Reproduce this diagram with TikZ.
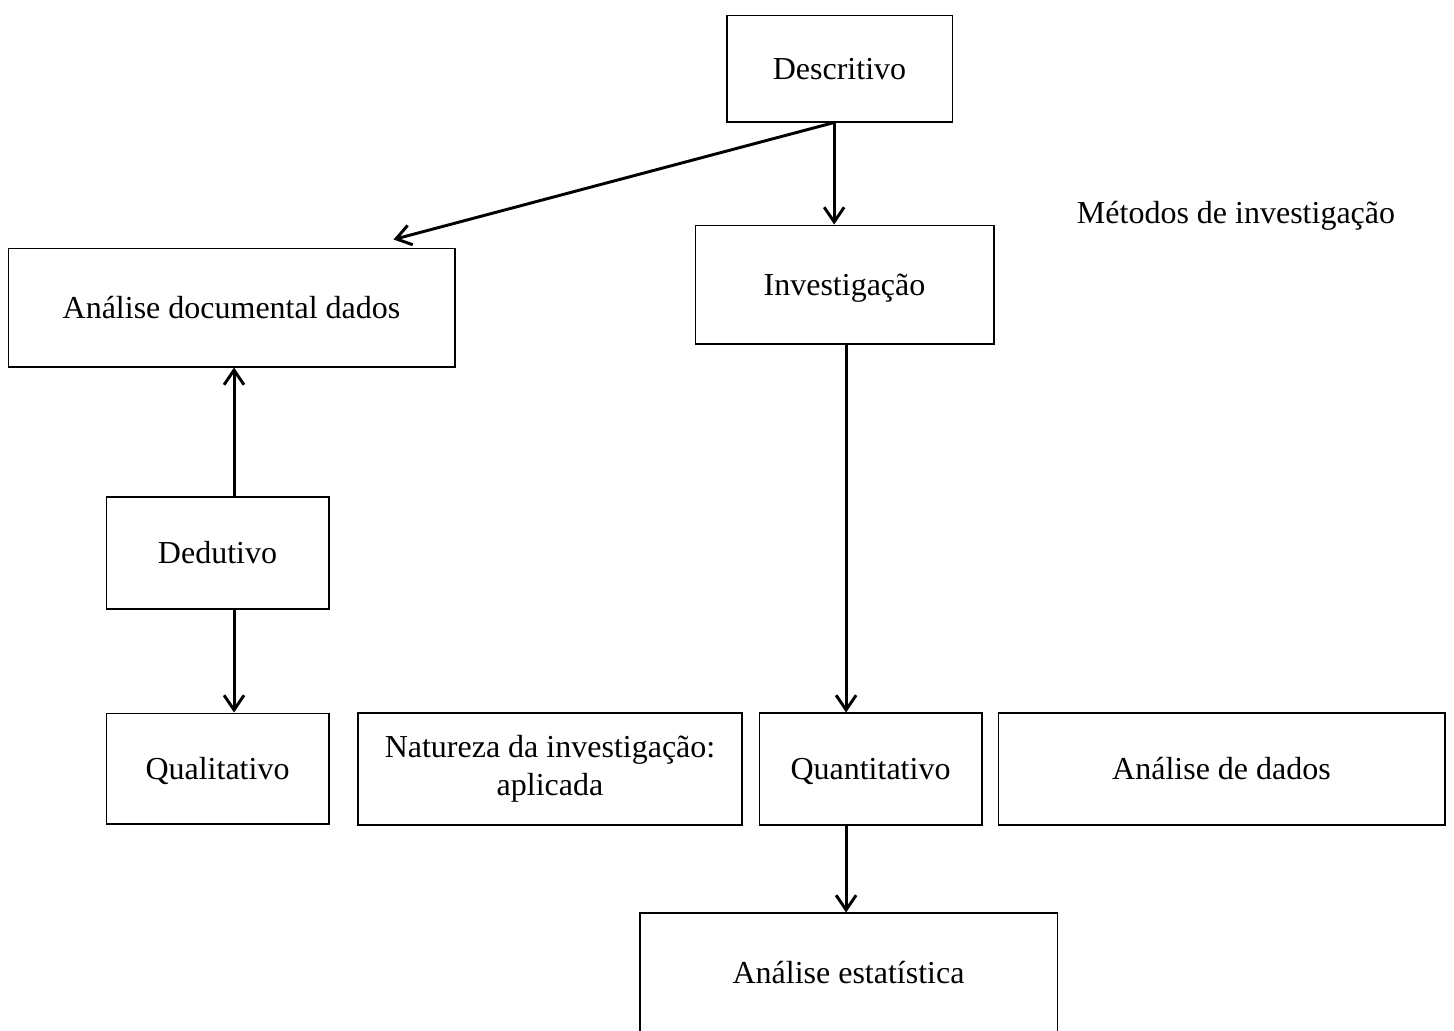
\documentclass[tikz,border=0pt]{standalone}
\usepackage{fontspec}
\setmainfont{Liberation Serif}
\usetikzlibrary{arrows.meta, positioning}

\begin{document}
\begin{tikzpicture}[x=0.375pt, y=-0.375pt, font=\fontsize{12}{14.3}\selectfont,
    caixa/.style={draw=black, line width=0.4pt, inner sep=0pt, align=center, anchor=center},
    linha/.style={text height=8pt, text depth=0pt},
    seta/.style={line width=1.1pt, -{Straight Barb[length=5.5pt, width=7.5pt]}}]
\clip (0,0) rectangle (1454,1030);

\node[caixa, linha, minimum width=84.4pt, minimum height=40.1pt] (desc) at (839.5, 68.5) {Descritivo};
\node[caixa, linha, minimum width=112.1pt, minimum height=44.6pt] (inv) at (844.5, 284.5) {Investigação};
\node[caixa, linha, minimum width=167.6pt, minimum height=44.6pt] (doc) at (231.5, 307.5) {Análise documental dados};
\node[caixa, linha, minimum width=83.6pt, minimum height=42pt] (ded) at (217.5, 553) {Dedutivo};
\node[caixa, linha, minimum width=83.6pt, minimum height=41.6pt] (qual) at (217.5, 768.5) {Qualitativo};
\node[caixa, minimum width=144pt, minimum height=42pt] (nat) at (550, 769) {Natureza da investigação:\\aplicada};
\node[caixa, linha, minimum width=83.6pt, minimum height=42pt] (quant) at (870.5, 769) {Quantitativo};
\node[caixa, linha, minimum width=167.6pt, minimum height=42pt] (dados) at (1221.5, 769) {Análise de dados};
\node[caixa, linha, minimum width=156.4pt, minimum height=45pt] (est) at (848.5, 973) {Análise estatística};
\node[linha, anchor=center] (met) at (1236, 213) {Métodos de investigação};

\draw[seta] ([xshift=-2pt]desc.south) -- ([xshift=-23.25pt, yshift=3pt]doc.north east);
\draw[seta] ([xshift=-2pt]desc.south) -- ([xshift=-2pt]desc.south |- inv.north);
\draw[seta] ([xshift=0.6pt]inv.south) -- ([xshift=0.6pt]inv.south |- quant.north);
\draw[seta] ([xshift=0.6pt]inv.south |- quant.south) -- ([xshift=0.6pt]inv.south |- est.north);
\draw[seta] ([xshift=6.2pt]ded.north) -- ([xshift=6.2pt]ded.north |- doc.south);
\draw[seta] ([xshift=6.2pt]ded.south) -- ([xshift=6.2pt]ded.south |- qual.north);

\end{tikzpicture}
\end{document}
